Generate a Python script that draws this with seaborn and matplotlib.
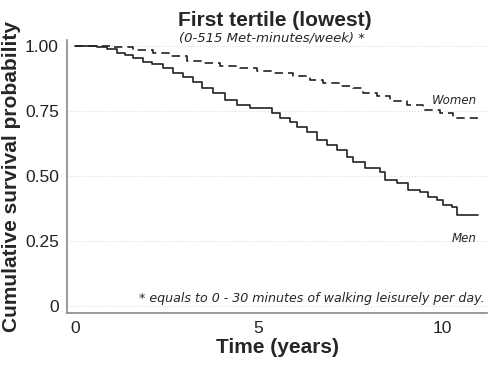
# Kaplan-Meier style survival curves, first tertile of activity, men vs women

import pandas as pd
import seaborn as sns
import matplotlib.pyplot as plt

# step points (time in years, survival probability)
men_time = [0, 0.6, 0.87, 0.95, 1.14, 1.36, 1.58, 1.85, 2.10, 2.40, 2.67, 2.94,
            3.22, 3.46, 3.76, 4.09, 4.41, 4.77, 5.37, 5.59, 5.86, 6.05, 6.32,
            6.59, 6.87, 7.14, 7.41, 7.57, 7.90, 8.31, 8.45, 8.77, 9.07, 9.40,
            9.62, 9.86, 10.03, 10.27, 10.41, 10.98]
men_surv = [1.0, 0.995, 0.99, 0.987, 0.974, 0.965, 0.954, 0.94, 0.93, 0.915,
            0.896, 0.88, 0.86, 0.84, 0.819, 0.792, 0.773, 0.76, 0.742, 0.723,
            0.708, 0.69, 0.67, 0.638, 0.62, 0.598, 0.573, 0.554, 0.53, 0.515,
            0.485, 0.473, 0.446, 0.438, 0.42, 0.408, 0.388, 0.38, 0.35, 0.35]

women_time = [0, 0.95, 1.58, 2.13, 2.59, 3.05, 3.49, 3.95, 4.50, 4.96, 5.40,
              5.94, 6.40, 6.76, 7.22, 7.57, 7.85, 8.23, 8.58, 9.05, 9.48, 9.95,
              10.30, 10.95]
women_surv = [1.0, 0.995, 0.985, 0.972, 0.96, 0.944, 0.935, 0.923, 0.915, 0.905,
              0.896, 0.885, 0.87, 0.858, 0.846, 0.838, 0.82, 0.808, 0.79, 0.773,
              0.754, 0.742, 0.723, 0.709]

ytick_vals = [0, 0.25, 0.5, 0.75, 1.0]
ytick_labels = ["0", "0.25", "0.50", "0.75", "1.00"]
xtick_vals = [0, 5, 10]

df = pd.concat([
    pd.DataFrame({"time": men_time, "surv": men_surv, "sex": "Men"}),
    pd.DataFrame({"time": women_time, "surv": women_surv, "sex": "Women"}),
])

sns.set_style("white")
plt.rcParams["font.family"] = ["Liberation Sans", "DejaVu Sans"]

fig = plt.figure(figsize=(4.9, 3.65), dpi=100)
ax = fig.add_axes([0.137, 0.1425, 0.857, 0.748])

hand = dict(family=["Liberation Sans Narrow", "DejaVu Sans"], style="italic")

for y in ytick_vals:
    ax.axhline(y, color="#cfe3e3", lw=0.8, ls=":", zorder=0)

sns.lineplot(data=df, x="time", y="surv", hue="sex", style="sex",
             palette={"Men": "#222222", "Women": "#222222"},
             dashes={"Men": "", "Women": (5, 3)},
             estimator=None, sort=True, drawstyle="steps-post",
             linewidth=1.2, legend=False, ax=ax)

ax.set_xlim(-0.22, 11.23)
ax.set_ylim(-0.027, 1.023)
ax.set_yticks(ytick_vals)
ax.set_yticklabels(ytick_labels)
ax.set_xticks(xtick_vals)
ax.tick_params(axis="both", direction="out", length=4, width=1,
               color="#888888", labelsize=12.5, labelcolor="#222222", pad=2)

for side in ["top", "right"]:
    ax.spines[side].set_visible(False)
for side in ["left", "bottom"]:
    ax.spines[side].set_color("#888888")
    ax.spines[side].set_linewidth(1.2)

ax.set_xlabel("Time (years)", fontsize=15, fontweight="bold", labelpad=1)
ax.set_ylabel("Cumulative survival probability", fontsize=15,
              fontweight="bold", labelpad=3)

fig.text(0.56, 0.945, "First tertile (lowest)", ha="center", va="center",
         fontsize=15, fontweight="bold")
fig.text(0.555, 0.897, "(0-515 Met-minutes/week) *", ha="center", va="center",
         fontsize=9.5, **hand)

ax.text(10.95, 0.79, "Women", ha="right", va="center", fontsize=8.5, **hand)
ax.text(10.95, 0.26, "Men", ha="right", va="center", fontsize=8.5, **hand)
ax.text(11.15, 0.03, "* equals to 0 - 30 minutes of walking leisurely per day.",
        ha="right", va="center", fontsize=9.1, **hand)

fig.savefig("out.png", dpi=100)
